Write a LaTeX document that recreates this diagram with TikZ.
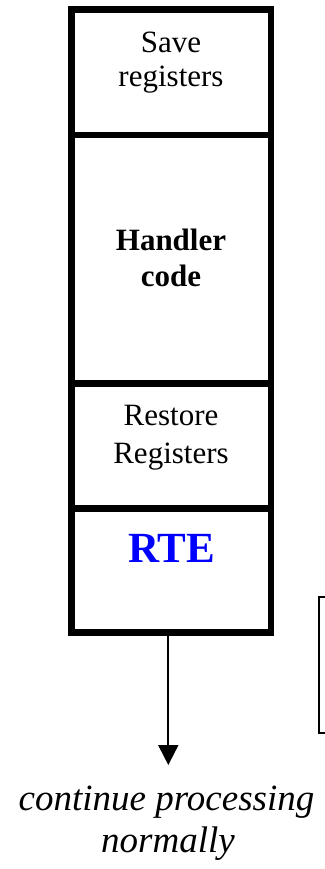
\documentclass[tikz,border=0pt]{standalone}
\usepackage{fontspec}
\setmainfont{Liberation Serif}
\usetikzlibrary{arrows.meta}
\definecolor{rteblue}{RGB}{0,0,255}
\begin{document}
\begin{tikzpicture}[x=1pt,y=-1pt,
  section/.style={draw, line width=6.5pt, minimum width=199.5pt, inner sep=0pt, outer sep=0pt},
  boxtext/.style={anchor=base, inner sep=0pt, font=\fontsize{31}{36}\selectfont},
  boxbold/.style={anchor=base, inner sep=0pt, font=\bfseries\fontsize{31}{36}\selectfont},
  rtetext/.style={anchor=base, inner sep=0pt, text=rteblue, font=\bfseries\fontsize{43}{50}\selectfont},
  endtext/.style={anchor=base, inner sep=0pt, font=\itshape\fontsize{37}{42}\selectfont},
  sideframe/.style={draw, line width=1.6pt, inner sep=0pt, minimum width=30pt, minimum height=136pt},
  flow/.style={line width=2pt, -{Triangle[width=20pt,length=20pt]}}
]
\useasboundingbox (0,0) rectangle (324,869);

\node[section, minimum height=125.5pt] (save) at (171.25,72.25) {};
\node[section, minimum height=248.5pt] (handler) at (171.25,259.25) {};
\node[section, minimum height=124.8pt] (restore) at (171.25,445.9) {};
\node[section, minimum height=124.2pt] (rte) at (171.25,570.4) {};

\node[boxtext] (save1) at (171,52.3) {Save};
\node[boxtext] (save2) at (171,87) {registers};
\node[boxbold] (hand1) at (171,250) {Handler};
\node[boxbold] (hand2) at (171,286.7) {code};
\node[boxtext] (rest1) at (171,425) {Restore};
\node[boxtext] (rest2) at (171,463) {Registers};
\node[rtetext] (rtelabel) at (171.5,562) {RTE};

\node[sideframe] (side) at (334,665) {};

\coordinate (tip) at (168.3,765);
\draw[flow] (rte.south -| tip) -- (tip);

\node[endtext] (cont1) at (166.5,810) {continue processing};
\node[endtext] (cont2) at (168,852) {normally};
\end{tikzpicture}
\end{document}
